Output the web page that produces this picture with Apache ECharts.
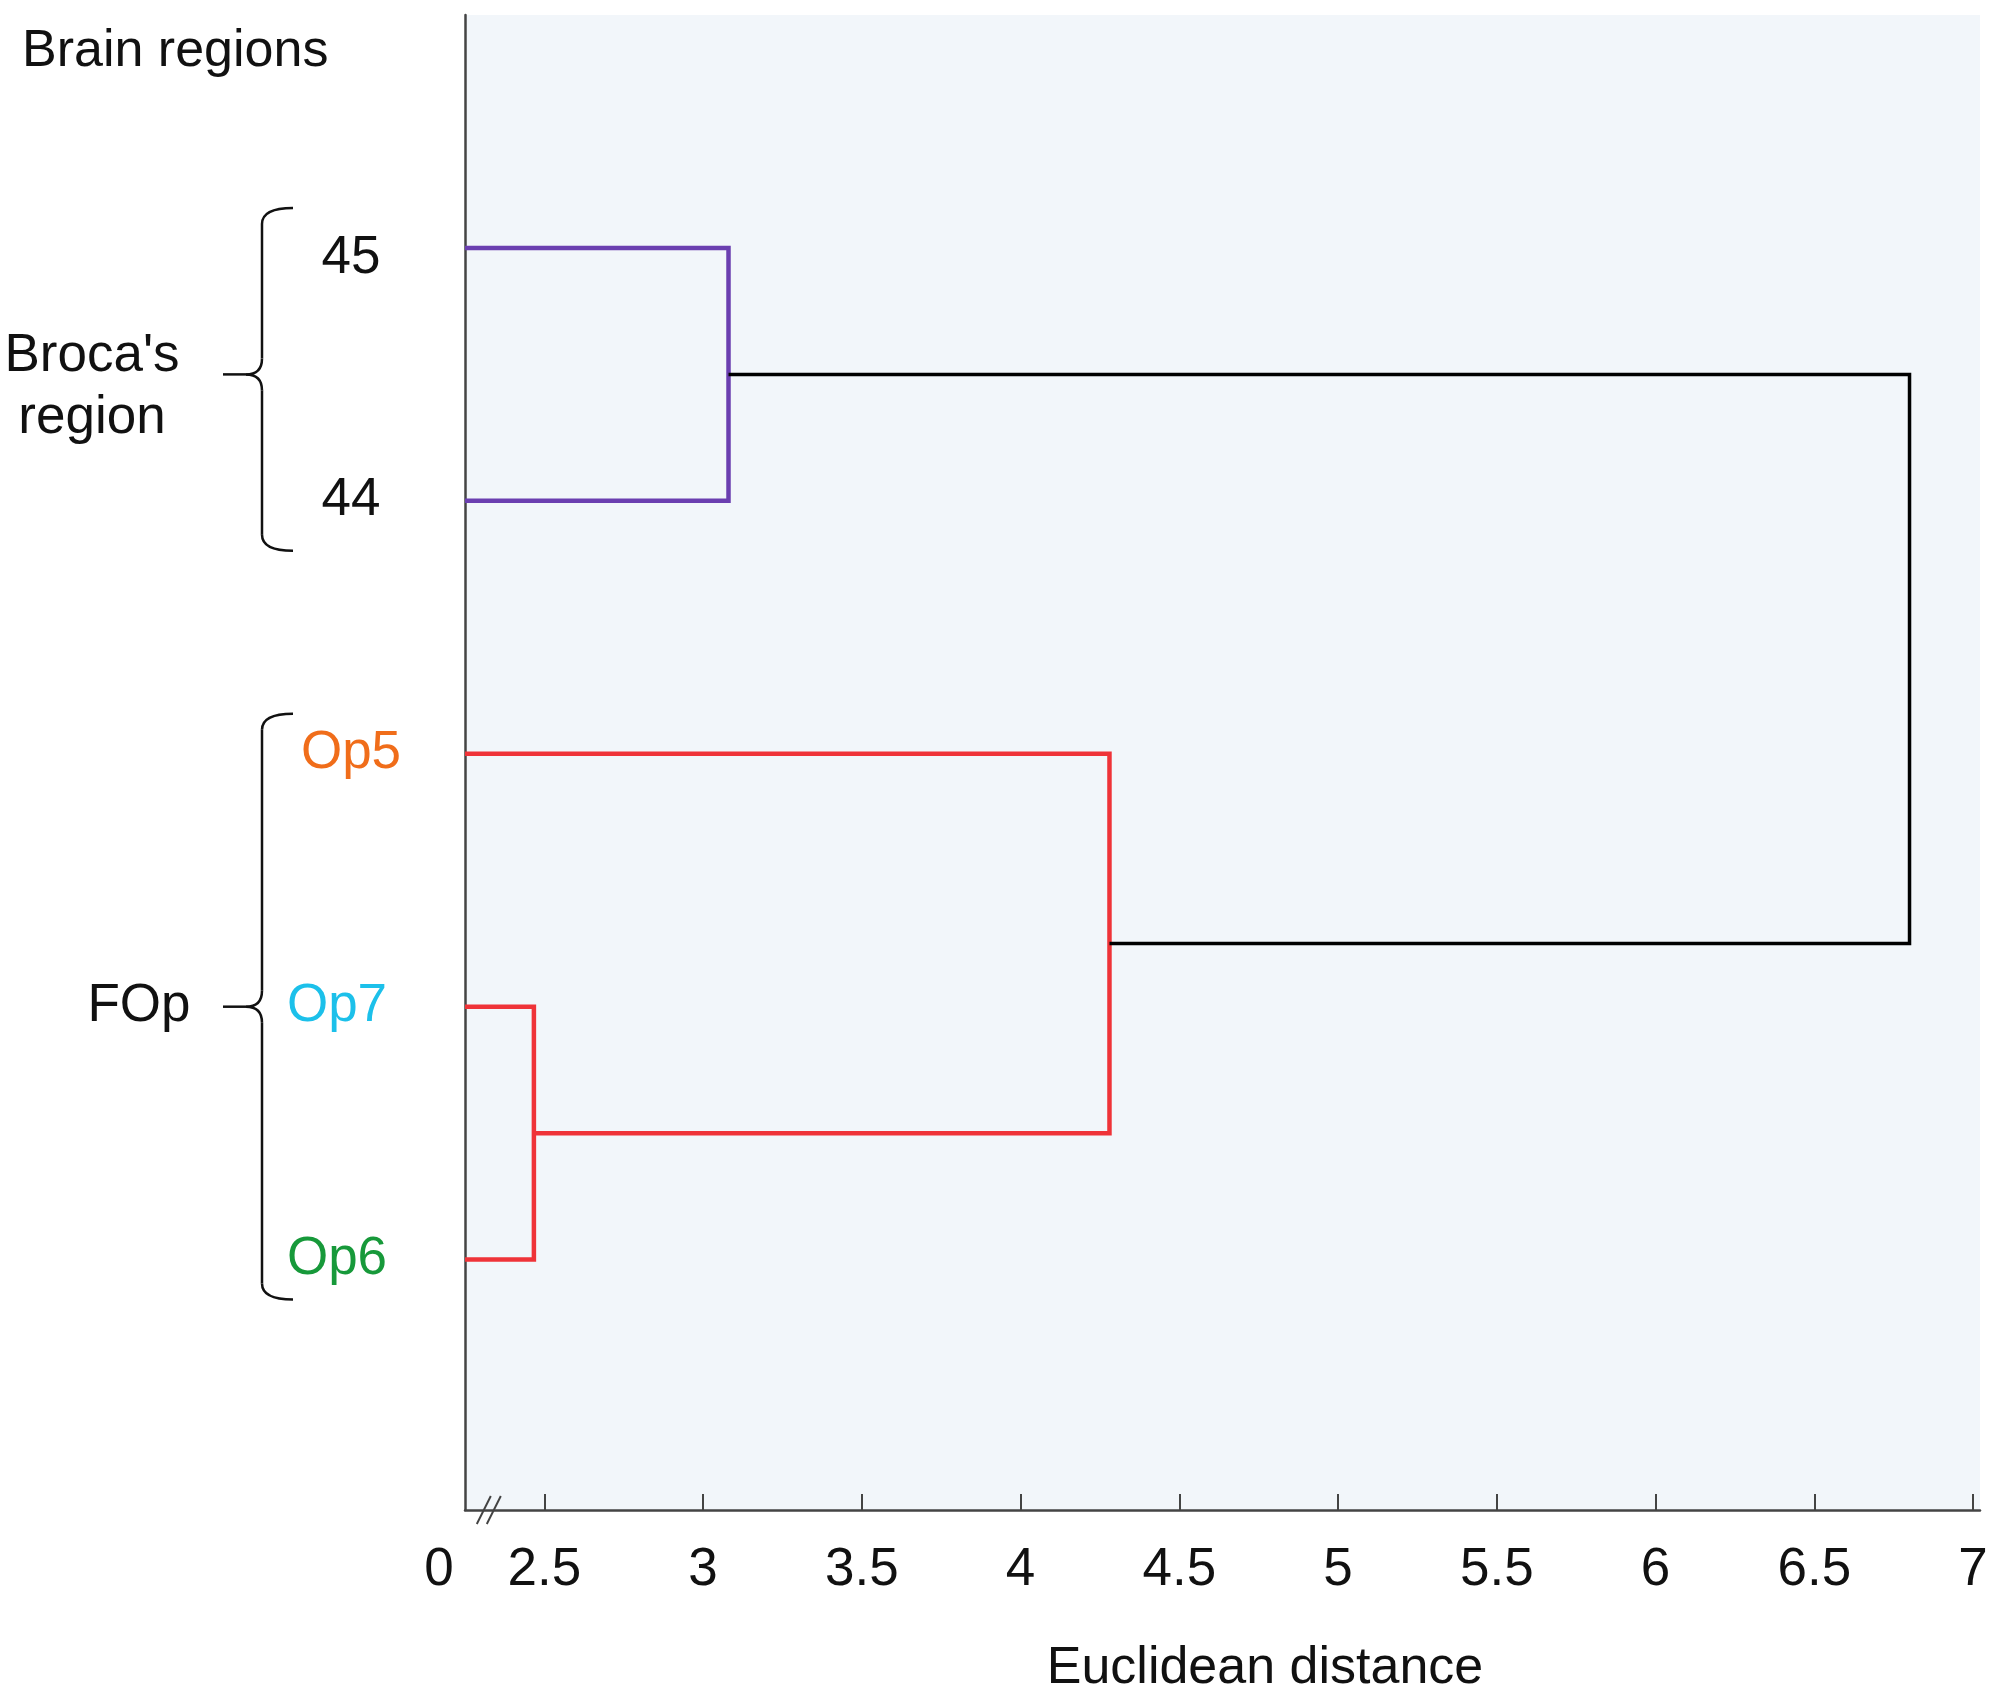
<!DOCTYPE html>
<html>
<head>
<meta charset="utf-8">
<script src="https://cdn.jsdelivr.net/npm/echarts@6/dist/echarts.min.js"></script>
<style>
  html, body { margin: 0; padding: 0; background: #fff; }
  #main { width: 1995px; height: 1703px; }
</style>
</head>
<body>
<div id="main"></div>
<script>
// leaves, top to bottom
var leafNames = ['45', '44', 'Op5', 'Op7', 'Op6'];
var leafColors = ['#111111', '#111111', '#f06d1a', '#1cc0ea', '#17993a'];
// merges: nodes 0-4 are leaves, 5.. are the merges in this order
var mergeLeft = [0, 3, 2, 5];
var mergeRight = [1, 4, 6, 7];
var mergeDist = [3.08, 2.17, 4.28, 6.80];
var mergeColors = ['#6b3fb0', '#ef3338', '#ef3338', '#000000'];
// x axis ticks (Euclidean distance)
var xTicks = [2.5, 3, 3.5, 4, 4.5, 5, 5.5, 6, 6.5, 7];
// groups of leaves (1-based leaf positions)
var groupNames = ["Broca's\nregion", 'FOp'];
var groupFrom = [1, 3];
var groupTo = [2, 5];
var groupMid = [1.5, 4];

// broken axis: 0..2.5 squeezed, then linear
function toAxis(v) { return v <= 2.5 ? v * 0.1 : 0.25 + (v - 2.5); }
function fromAxis(c) { return c <= 0.25 ? c * 10 : c - 0.25 + 2.5; }

var FONT = 'Liberation Sans, Arial, sans-serif';

// node positions
var nodeX = [], nodeY = [];
leafNames.forEach(function (n, i) { nodeX.push(0); nodeY.push(i + 1); });
mergeDist.forEach(function (d, k) {
    var a = mergeLeft[k], b = mergeRight[k];
    nodeX.push(d);
    nodeY.push((nodeY[a] + nodeY[b]) / 2);
});

var series = mergeDist.map(function (d, k) {
    var a = mergeLeft[k], b = mergeRight[k];
    return {
        type: 'line',
        symbol: 'none',
        silent: true,
        lineStyle: { color: mergeColors[k], width: k === 3 ? 3.5 : 4.5, join: 'miter' },
        data: [
            [toAxis(nodeX[a]), nodeY[a]],
            [toAxis(d), nodeY[a]],
            [toAxis(d), nodeY[b]],
            [toAxis(nodeX[b]), nodeY[b]]
        ]
    };
});

// 标签微调: 45 略低, Op7/Op6 略偏左
var labelPad = [[20, 0, 0, 0], [0, 0, 0, 0], [0, 0, 0, 0], [0, 28, 0, 0], [0, 28, 0, 0]];
var rich = {};
leafNames.forEach(function (n, i) {
    rich['l' + i] = {
        color: leafColors[i], fontSize: 53, fontFamily: FONT,
        padding: labelPad[i]
    };
});

var myChart = echarts.init(document.getElementById('main'));
var option = {
    animation: false,
    grid: {
        left: 465, top: 15, width: 1515, height: 1495,
        show: true, backgroundColor: '#f2f6fa', borderWidth: 0
    },
    xAxis: {
        type: 'value',
        min: 0,
        max: 4.772,
        splitLine: { show: false },
        axisLine: { lineStyle: { color: '#444', width: 2.5 } },
        axisTick: {
            inside: true, length: 16,
            lineStyle: { color: '#444', width: 2 },
            customValues: xTicks.map(toAxis)
        },
        axisLabel: {
            margin: 34,
            fontSize: 53,
            fontFamily: FONT,
            color: '#111',
            customValues: [0].concat(xTicks.map(toAxis)),
            formatter: function (c) {
                var v = Math.round(fromAxis(c) * 10) / 10;
                if (v === 0) return '{z|0}';
                return String(v);
            },
            rich: { z: { fontSize: 53, fontFamily: FONT, color: '#111', padding: [0, 52, 0, 0] } }
        }
    },
    yAxis: {
        type: 'value',
        inverse: true,
        min: 0.079,
        max: 5.99,
        splitLine: { show: false },
        axisTick: { show: false },
        axisLine: { show: true, lineStyle: { color: '#444', width: 2.5 } },
        axisLabel: {
            margin: 114,
            align: 'center',
            customValues: [1, 2, 3, 4, 5],
            formatter: function (v) {
                var i = Math.round(v) - 1;
                return '{l' + i + '|' + leafNames[i] + '}';
            },
            rich: rich
        }
    },
    series: series
};
myChart.setOption(option);

// annotations: brackets, group names, titles
var graphics = [];
graphics.push({
    type: 'text', x: 22, y: 52,
    style: { text: 'Brain regions', fontSize: 52, fontFamily: FONT, fill: '#111',
        textAlign: 'left', textVerticalAlign: 'middle' }
});
graphics.push({
    type: 'text', x: 1265, y: 1669,
    style: { text: 'Euclidean distance', fontSize: 52, fontFamily: FONT, fill: '#111',
        textAlign: 'center', textVerticalAlign: 'middle' }
});
var braceStyle = { fill: null, stroke: '#111', lineWidth: 2.5 };
var bottomPad = [50, 40];
groupNames.forEach(function (name, g) {
    var top = myChart.convertToPixel({ gridIndex: 0 }, [0, groupFrom[g]])[1] - 40;
    var bot = myChart.convertToPixel({ gridIndex: 0 }, [0, groupTo[g]])[1] + bottomPad[g];
    var mid = myChart.convertToPixel({ gridIndex: 0 }, [0, groupMid[g]])[1];
    var xv = 262, xr = 293, xl = 223, r = 16;
    // top hook, upper stem, tip, lower stem, bottom hook
    graphics.push({ type: 'bezierCurve', shape: { x1: xr, y1: top, x2: xv, y2: top + r, cpx1: xv, cpy1: top }, style: braceStyle });
    graphics.push({ type: 'line', shape: { x1: xv, y1: top + r, x2: xv, y2: mid - r }, style: braceStyle });
    graphics.push({ type: 'bezierCurve', shape: { x1: xv, y1: mid - r, x2: xv - 16, y2: mid, cpx1: xv, cpy1: mid }, style: braceStyle });
    graphics.push({ type: 'line', shape: { x1: xv - 16, y1: mid, x2: xl, y2: mid }, style: braceStyle });
    graphics.push({ type: 'bezierCurve', shape: { x1: xv - 16, y1: mid, x2: xv, y2: mid + r, cpx1: xv, cpy1: mid }, style: braceStyle });
    graphics.push({ type: 'line', shape: { x1: xv, y1: mid + r, x2: xv, y2: bot - r }, style: braceStyle });
    graphics.push({ type: 'bezierCurve', shape: { x1: xv, y1: bot - r, x2: xr, y2: bot, cpx1: xv, cpy1: bot }, style: braceStyle });
    var lines = name.split('\n');
    graphics.push({
        type: 'text',
        x: lines.length > 1 ? 92 : 139,
        y: lines.length > 1 ? mid + 13 : mid,
        style: { text: name, fontSize: 53, fontFamily: FONT, fill: '#111',
            textAlign: 'center', textVerticalAlign: 'middle', lineHeight: 62 }
    });
});
// break mark on the x axis
var bp = myChart.convertToPixel({ gridIndex: 0 }, [0.075, 5.99]);
[-5, 5].forEach(function (dx) {
    graphics.push({
        type: 'line',
        shape: { x1: bp[0] + dx - 7, y1: bp[1] + 14, x2: bp[0] + dx + 7, y2: bp[1] - 14 },
        style: { stroke: '#444', lineWidth: 2 }
    });
});
myChart.setOption({ graphic: graphics });

window.onresize = function () {
    myChart.resize();
};
</script>
</body>
</html>
